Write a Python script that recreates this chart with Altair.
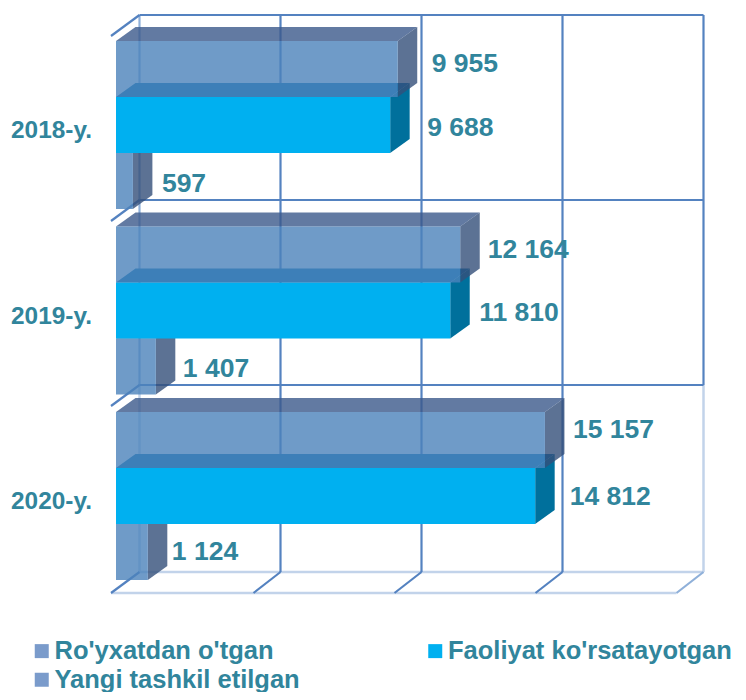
import altair as alt
import pandas as pd

# ---- values
categories = ["2018-y.", "2019-y.", "2020-y."]
registered = [9955, 12164, 15157]
active = [9688, 11810, 14812]
new_firms = [597, 1407, 1124]
series_names = ["Ro'yxatdan o'tgan", "Yangi tashkil etilgan", "Faoliyat ko'rsatayotgan"]
grid_ticks = [0, 1, 2, 3, 4]

# ---- geometry of the pseudo-3D box (page pixels)
W, H = 730, 684
PX_PER_VALUE = 0.0283
X0 = 116.0
ROW_TOP = 41.0
ROW_STEP = 185.5
BAR_H = 56.0
BAR_DX, BAR_DY = 19.5, 14.0
GRID_STEP = 141.0
BACK_X0, FRONT_X0 = 139.5, 111.0
FLOOR_DX = 27.0
WALL_Y = [15, 200, 385, 572]
FLOOR_Y = 593
DIAG_DY = 21


def vx(px):
    return (px - X0) / PX_PER_VALUE


def uy(py):
    return (py - ROW_TOP) / ROW_STEP


x_scale = alt.Scale(domain=[vx(8), vx(8 + W)], range=[0, W], nice=False, zero=False, clamp=False)
y_scale = alt.Scale(domain=[uy(8), uy(8 + H)], range=[0, H], nice=False, zero=False)
X = alt.X("x:Q", scale=x_scale, axis=None)
X2 = alt.X2("x2:Q")
Y = alt.Y("y:Q", scale=y_scale, axis=None)
Y2 = alt.Y2("y2:Q")

DARK, MID, LIGHT = "#5482c0", "#8fb0d9", "#c2d3ea"


def rules(segments, color, width=2.2):
    df = pd.DataFrame(
        [dict(x=vx(a), x2=vx(b), y=uy(c), y2=uy(d)) for a, b, c, d in segments]
    )
    return alt.Chart(df).mark_rule(color=color, strokeWidth=width).encode(x=X, x2=X2, y=Y, y2=Y2)


back = [BACK_X0 + GRID_STEP * t for t in grid_ticks]
front = [FRONT_X0] + [b - FLOOR_DX for b in back[1:]]

dark_seg = []
for bx in back[1:4]:
    dark_seg.append((bx, bx, WALL_Y[0], WALL_Y[3]))
dark_seg.append((back[4], back[4], WALL_Y[0], WALL_Y[2]))
for wy in WALL_Y[:3]:
    dark_seg.append((back[0], back[4], wy, wy))
    dark_seg.append((front[0], back[0], wy + DIAG_DY, wy))
for fx, bx in list(zip(front, back))[:4]:
    dark_seg.append((fx, bx, FLOOR_Y, WALL_Y[3]))
mid_seg = [(back[0], back[0], WALL_Y[0], WALL_Y[2]), (front[4], back[4], FLOOR_Y, WALL_Y[3])]
light_seg = [
    (back[0], back[0], WALL_Y[2], WALL_Y[3]),
    (back[4], back[4], WALL_Y[2], WALL_Y[3]),
    (back[0], back[4], WALL_Y[3], WALL_Y[3]),
    (front[0], front[4], FLOOR_Y, FLOOR_Y),
]

layers = [rules(light_seg, LIGHT, 2.5), rules(mid_seg, MID), rules(dark_seg, DARK)]


def bar_layers(values, slot, front_c, top_c, side_c, alpha):
    du = BAR_DX / PX_PER_VALUE
    dy = BAR_DY / ROW_STEP
    h = BAR_H / ROW_STEP
    fr, tp, sd = [], [], []
    for i, (c, v) in enumerate(zip(categories, values)):
        t = i + slot * h
        b = t + h
        fr += [dict(c=c, x=0, x2=v, y=t), dict(c=c, x=0, x2=v, y=b)]
        tp += [dict(c=c, x=du, x2=v + du, y=t - dy), dict(c=c, x=0, x2=v, y=t)]
        sd += [dict(c=c, x=v, y=t, y2=b), dict(c=c, x=v + du, y=t - dy, y2=b - dy)]
    common = dict(opacity=alpha, interpolate="linear", line=False)
    return [
        alt.Chart(pd.DataFrame(sd)).mark_area(color=side_c, orient="vertical", **common)
        .encode(x=X, y=Y, y2=Y2, detail="c:N"),
        alt.Chart(pd.DataFrame(tp)).mark_area(color=top_c, orient="horizontal", **common)
        .encode(y=Y, x=X, x2=X2, detail="c:N"),
        alt.Chart(pd.DataFrame(fr)).mark_area(color=front_c, orient="horizontal", **common)
        .encode(y=Y, x=X, x2=X2, detail="c:N"),
    ]


layers += bar_layers(new_firms, 2, "#4c83bb", "#3c5a8b", "#34507a", 0.804)
layers += bar_layers(active, 1, "#00b0f0", "#0070ad", "#00709c", 1)
layers += bar_layers(registered, 0, "#4c83bb", "#3c5a8b", "#34507a", 0.804)

# ---- value labels
TEAL = "#31859c"
nudge_x = [[34, 37, 29], [27.5, 29, 27], [28, 34.5, 24]]
nudge_y = [[-5, 3, 3], [-5, 2, 2], [-10, 1, 0]]
rows = []
for i, c in enumerate(categories):
    for s, vals in enumerate([registered, active, new_firms]):
        v = vals[i]
        rows.append(
            dict(
                x=v + nudge_x[i][s] / PX_PER_VALUE,
                y=i + (s + 0.5) * BAR_H / ROW_STEP + nudge_y[i][s] / ROW_STEP,
                t=f"{v:,}".replace(",", " "),
            )
        )
layers.append(
    alt.Chart(pd.DataFrame(rows))
    .mark_text(align="left", baseline="middle", font="Liberation Sans", fontWeight="bold", fontSize=26.5, color=TEAL)
    .encode(x=X, y=Y, text="t:N")
)

# ---- category labels
cat_df = pd.DataFrame(
    [dict(x=vx(11), y=i + 1.5 * BAR_H / ROW_STEP + 6 / ROW_STEP, t=c) for i, c in enumerate(categories)]
)
layers.append(
    alt.Chart(cat_df)
    .mark_text(align="left", baseline="middle", font="Liberation Sans", fontWeight="bold", fontSize=24.4, color=TEAL)
    .encode(x=X, y=Y, text="t:N")
)

# ---- legend
legend_df = pd.DataFrame([dict(x=0, y=0, s=s) for s in series_names])
layers.append(
    alt.Chart(legend_df)
    .mark_square(opacity=0, size=196)
    .encode(
        x=X,
        y=Y,
        color=alt.Color(
            "s:N",
            sort=series_names,
            scale=alt.Scale(domain=series_names, range=["#7a9bcb", "#7a9bcb", "#00b0f0"]),
            legend=alt.Legend(
                title=None,
                orient="none",
                legendX=21,
                legendY=630,
                columns=2,
                columnPadding=122.5,
                rowPadding=2,
                symbolType="square",
                symbolSize=196,
                symbolOpacity=1,
                symbolStrokeWidth=0,
                labelFont="Liberation Sans",
                labelFontWeight="bold",
                labelFontSize=25.5,
                labelColor=TEAL,
                labelLimit=400,
                labelOffset=0,
                padding=0,
            ),
        ),
    )
)

chart = (
    alt.layer(*layers)
    .properties(width=W, height=H, padding=0, background="white", autosize=alt.AutoSizeParams(type="none"))
    .configure_view(strokeWidth=0, stroke="transparent")
)
chart.save("out.html", embed_options={"renderer": "svg", "actions": False})
